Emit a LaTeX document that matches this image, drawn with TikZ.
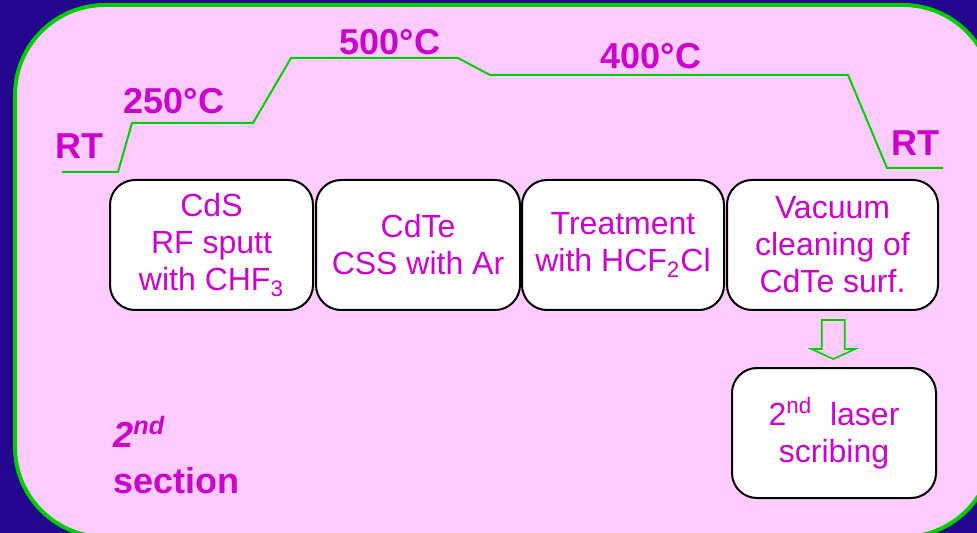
\documentclass[tikz,border=0pt]{standalone}
\usepackage{fontspec}
\setmainfont{Liberation Sans}
\usetikzlibrary{positioning}
\definecolor{slidebg}{RGB}{34,6,142}
\definecolor{panelpink}{RGB}{255,204,255}
\definecolor{linegreen}{RGB}{0,204,0}
\definecolor{textmag}{RGB}{204,0,204}

\begin{document}
\begin{tikzpicture}[x=0.5pt,y=-0.5pt,
  stage/.style={rectangle,draw,line width=1pt,fill=white,rounded corners=12.5pt,align=center,minimum width=101.5pt,minimum height=65pt,text=textmag,font=\fontsize{16}{18.5}\selectfont,inner sep=2pt},
  temp/.style={text=textmag,font=\fontsize{18}{21}\selectfont\bfseries,inner sep=0pt}]

\clip (0,0) rectangle (977,533);
\fill[slidebg] (0,0) rectangle (977,533);
\draw[linegreen,fill=panelpink,line width=2pt,rounded corners=45pt] (15,5) rectangle (993,537);

% temperature profile
\draw[linegreen,line width=1pt] (62,172) -- (118,172) -- (132,123) -- (253,123) -- (291,58) -- (458,58) -- (490,75) -- (848,75) -- (887,168) -- (943,168);

\node (rtl) [temp] at (79,146) {RT};
\node (t250) [temp] at (174,101) {250°C};
\node (t500) [temp] at (390,42) {500°C};
\node (t400) [temp] at (651,56) {400°C};
\node (rtr) [temp] at (915,143) {RT};

% process steps
\node (cds) [stage] at (211.5,245) {CdS\\RF sputt\\with CHF\textsubscript{3}};
\node (cdte) [stage,right=0.5pt of cds, minimum width=102pt] {CdTe\\CSS with Ar};
\node (treat) [stage,right=0pt of cdte, minimum width=101pt] {Treatment\\with HCF\textsubscript{2}Cl};
\node (vac) [stage,right=0.5pt of treat, minimum width=105.5pt] {Vacuum\\cleaning of\\CdTe surf.};
\node (scribe) [stage,below=28pt of vac, minimum width=102pt, xshift=0.75pt] {2\textsuperscript{nd}~ laser\\scribing};

% hollow arrow
\path (vac.south) -- (scribe.north) coordinate[pos=0.5] (amid);
\draw[linegreen,line width=0.8pt] ([xshift=-5.75pt,yshift=9.5pt]amid) -- ([xshift=5.75pt,yshift=9.5pt]amid) -- ([xshift=5.75pt,yshift=-5pt]amid) -- ([xshift=11pt,yshift=-5pt]amid) -- ([yshift=-10pt]amid) -- ([xshift=-11pt,yshift=-5pt]amid) -- ([xshift=-5.75pt,yshift=-5pt]amid) -- cycle;

\node (sec) [anchor=west,align=left,inner sep=0pt,text=textmag,font=\fontsize{18}{23}\selectfont\bfseries] at (113,455) {\textit{2\textsuperscript{nd}}\\section};

\end{tikzpicture}
\end{document}
